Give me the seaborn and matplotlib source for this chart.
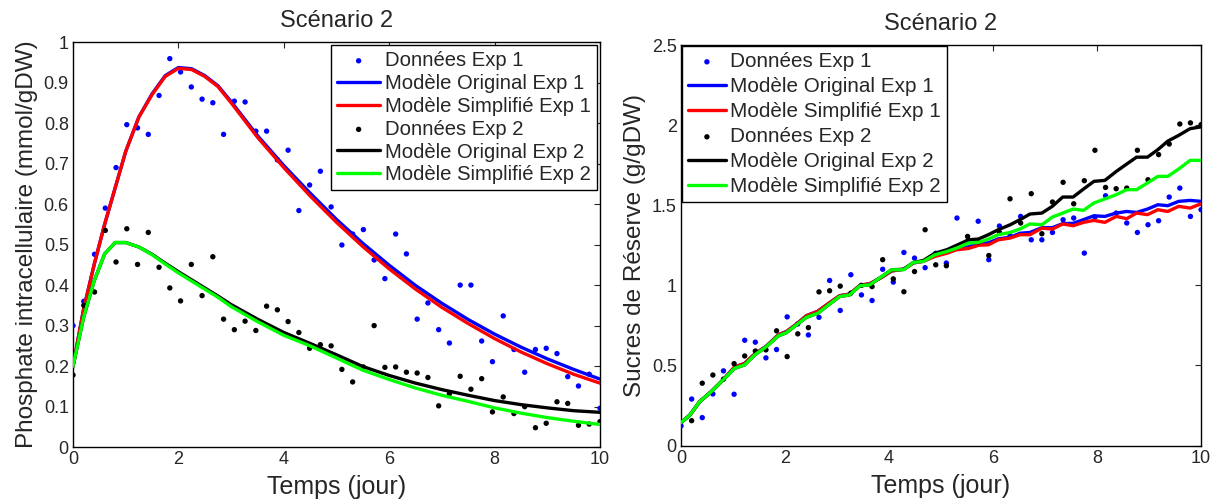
import numpy as np
import pandas as pd
import matplotlib
matplotlib.use("Agg")
import matplotlib.pyplot as plt
import seaborn as sns

# ---------------- data ----------------
# sampling times of the measurements (50 samples over 10 days)
t_data = np.linspace(0, 10, 50)

# Phosphate intracellulaire (mmol/gDW)
phos_exp1 = [0.30, 0.36, 0.476, 0.59, 0.69, 0.796, 0.788, 0.772, 0.868, 0.959,
             0.926, 0.889, 0.859, 0.85, 0.772, 0.854, 0.852, 0.78, 0.78, 0.709,
             0.733, 0.584, 0.647, 0.681, 0.593, 0.499, 0.526, 0.537, 0.462, 0.416,
             0.526, 0.477, 0.316, 0.356, 0.29, 0.257, 0.40, 0.40, 0.262, 0.211,
             0.324, 0.241, 0.185, 0.241, 0.244, 0.231, 0.174, 0.151, 0.18, 0.096]
phos_exp2 = [0.178, 0.35, 0.383, 0.535, 0.457, 0.539, 0.451, 0.53, 0.444, 0.393,
             0.361, 0.451, 0.374, 0.47, 0.316, 0.29, 0.311, 0.288, 0.348, 0.339,
             0.31, 0.283, 0.244, 0.253, 0.25, 0.192, 0.161, 0.198, 0.30, 0.197,
             0.198, 0.185, 0.183, 0.172, 0.102, 0.132, 0.175, 0.143, 0.169, 0.087,
             0.124, 0.083, 0.10, 0.048, 0.059, 0.112, 0.108, 0.054, 0.057, 0.063]

t_phos_model = [0, 0.2, 0.4, 0.6, 0.8, 1.0, 1.25, 1.5, 1.75, 2.0, 2.25, 2.5, 2.75,
                3.0, 3.5, 4.0, 4.5, 5.0, 5.5, 6.0, 6.5, 7.0, 7.5, 8.0, 8.5, 9.0,
                9.5, 10.0]
phos_orig1 = [0.20, 0.34, 0.45, 0.55, 0.64, 0.73, 0.815, 0.872, 0.917, 0.937,
              0.934, 0.917, 0.892, 0.853, 0.769, 0.695, 0.627, 0.562, 0.503,
              0.449, 0.399, 0.355, 0.315, 0.279, 0.247, 0.218, 0.192, 0.168]
phos_simp1 = [0.20, 0.34, 0.45, 0.55, 0.64, 0.73, 0.815, 0.87, 0.915, 0.935,
              0.932, 0.915, 0.89, 0.85, 0.765, 0.69, 0.62, 0.555, 0.495,
              0.44, 0.39, 0.345, 0.305, 0.268, 0.235, 0.206, 0.18, 0.158]
phos_orig2 = [0.20, 0.32, 0.41, 0.477, 0.505, 0.505, 0.494, 0.476, 0.454, 0.433,
              0.413, 0.393, 0.373, 0.352, 0.316, 0.283, 0.256, 0.228, 0.199,
              0.177, 0.158, 0.142, 0.128, 0.115, 0.105, 0.097, 0.090, 0.086]
phos_simp2 = [0.20, 0.32, 0.41, 0.477, 0.505, 0.505, 0.494, 0.475, 0.452, 0.43,
              0.41, 0.39, 0.37, 0.347, 0.31, 0.276, 0.25, 0.22, 0.19,
              0.167, 0.146, 0.128, 0.113, 0.097, 0.084, 0.073, 0.064, 0.056]

# Sucres de Réserve (g/gDW)
sucre_exp1 = [0.122, 0.29, 0.174, 0.322, 0.466, 0.32, 0.657, 0.645, 0.547, 0.599,
              0.803, 0.759, 0.69, 0.80, 1.03, 0.843, 1.066, 0.94, 0.905, 1.10,
              1.02, 1.205, 1.17, 1.11, 1.20, 1.139, 1.42, 1.274, 1.40, 1.16,
              1.37, 1.309, 1.43, 1.284, 1.284, 1.33, 1.409, 1.42, 1.201, 1.426,
              1.559, 1.451, 1.389, 1.33, 1.378, 1.403, 1.551, 1.607, 1.43, 1.472]
sucre_exp2 = [0.149, 0.155, 0.389, 0.44, 0.414, 0.511, 0.559, 0.59, 0.597, 0.716,
              0.555, 0.697, 0.736, 0.959, 0.966, 0.995, 0.951, 1.00, 0.992, 1.16,
              1.04, 0.96, 1.086, 1.347, 1.128, 1.122, 1.24, 1.305, 1.27, 1.186,
              1.33, 1.54, 1.389, 1.572, 1.322, 1.52, 1.643, 1.509, 1.653, 1.843,
              1.611, 1.603, 1.607, 1.843, 1.659, 1.816, 1.882, 2.007, 2.014, 2.003]

t_sucre_early = [0, 0.17, 0.36, 0.58, 0.81, 1.03, 1.22, 1.42, 1.64, 1.87, 2.03,
                 2.22, 2.41, 2.63, 2.86, 3.05, 3.24, 3.44]
sucre_early = [0.143, 0.19, 0.274, 0.336, 0.41, 0.482, 0.503, 0.566, 0.617, 0.684,
               0.705, 0.753, 0.80, 0.826, 0.884, 0.93, 0.94, 0.997]
sucre_early_s1 = [0.143, 0.19, 0.274, 0.336, 0.41, 0.49, 0.512, 0.572, 0.62, 0.69,
                  0.712, 0.758, 0.81, 0.838, 0.892, 0.935, 0.945, 1.0]

t_sucre_late = [3.63, 3.86, 4.05, 4.28, 4.47, 4.66, 4.88, 5.11, 5.30, 5.53, 5.72,
                5.91, 6.10, 6.33, 6.52, 6.71, 6.94, 7.14, 7.34, 7.54, 7.74, 7.94,
                8.15, 8.37, 8.57, 8.76, 8.97, 9.17, 9.36, 9.57, 9.79, 10.0]
sucre_orig1_late = [1.01, 1.05, 1.09, 1.10, 1.14, 1.15, 1.185, 1.205, 1.23, 1.24,
                    1.26, 1.265, 1.29, 1.30, 1.325, 1.33, 1.36, 1.36, 1.385, 1.387,
                    1.41, 1.434, 1.43, 1.451, 1.461, 1.455, 1.476, 1.503, 1.497,
                    1.524, 1.53, 1.524]
sucre_simp1_late = [1.01, 1.05, 1.09, 1.10, 1.14, 1.15, 1.18, 1.20, 1.222, 1.23,
                    1.25, 1.253, 1.284, 1.295, 1.316, 1.316, 1.357, 1.351, 1.383,
                    1.372, 1.393, 1.405, 1.393, 1.43, 1.416, 1.451, 1.441, 1.472,
                    1.461, 1.493, 1.482, 1.509]
sucre_orig2_late = [1.003, 1.055, 1.097, 1.10, 1.143, 1.155, 1.20, 1.222, 1.25,
                    1.284, 1.289, 1.316, 1.347, 1.378, 1.41, 1.445, 1.451, 1.493,
                    1.551, 1.551, 1.601, 1.649, 1.655, 1.711, 1.757, 1.80, 1.80,
                    1.847, 1.90, 1.936, 1.978, 1.989]
sucre_simp2_late = [1.003, 1.055, 1.097, 1.097, 1.143, 1.149, 1.19, 1.211, 1.232,
                    1.264, 1.268, 1.289, 1.316, 1.33, 1.352, 1.383, 1.378, 1.426,
                    1.451, 1.476, 1.468, 1.514, 1.539, 1.566, 1.597, 1.597, 1.639,
                    1.68, 1.68, 1.726, 1.78, 1.78]

labels = ["Données Exp 1", "Modèle Original Exp 1", "Modèle Simplifié Exp 1",
          "Données Exp 2", "Modèle Original Exp 2", "Modèle Simplifié Exp 2"]

# ---------------- style ----------------
sns.set_style("white")
plt.rcParams["font.family"] = ["Liberation Sans", "DejaVu Sans"]
plt.rcParams["axes.linewidth"] = 1.0
plt.rcParams["xtick.direction"] = "in"
plt.rcParams["ytick.direction"] = "in"

fig = plt.figure(figsize=(12.17, 5.03), dpi=100)
ax1 = fig.add_axes([0.060, 0.111, 0.433, 0.8055])
ax2 = fig.add_axes([0.5596, 0.1143, 0.4273, 0.7962])

LW = 2.4
MS = 60


def draw(ax, td, d1, d2, tm1, o1, s1, tm2, o2, s2):
    sns.scatterplot(x=td, y=d1, ax=ax, color="#0000ff", marker=".", s=MS,
                    edgecolor="none", label=labels[0], zorder=3)
    sns.lineplot(x=tm1, y=o1, ax=ax, color="#0000ff", lw=LW, estimator=None,
                 label=labels[1], zorder=4)
    sns.lineplot(x=tm1, y=s1, ax=ax, color="#ff0000", lw=LW, estimator=None,
                 label=labels[2], zorder=5)
    sns.scatterplot(x=td, y=d2, ax=ax, color="black", marker=".", s=MS,
                    edgecolor="none", label=labels[3], zorder=6)
    sns.lineplot(x=tm2, y=o2, ax=ax, color="black", lw=LW, estimator=None,
                 label=labels[4], zorder=7)
    sns.lineplot(x=tm2, y=s2, ax=ax, color="#00ff00", lw=LW, estimator=None,
                 label=labels[5], zorder=8)


draw(ax1, t_data, phos_exp1, phos_exp2,
     t_phos_model, phos_orig1, phos_simp1,
     t_phos_model, phos_orig2, phos_simp2)

t_sucre = t_sucre_early + t_sucre_late
draw(ax2, t_data, sucre_exp1, sucre_exp2,
     t_sucre, sucre_early_s1 + sucre_orig1_late, sucre_early_s1 + sucre_simp1_late,
     t_sucre, sucre_early + sucre_orig2_late, sucre_early + sucre_simp2_late)

for ax in (ax1, ax2):
    ax.set_xlim(0, 10)
    ax.set_xticks([0, 2, 4, 6, 8, 10])
    ax.tick_params(axis="both", which="both", top=True, right=True,
                   length=4, width=0.8, labelsize=13, pad=3)
    for sp in ax.spines.values():
        sp.set_visible(True)
        sp.set_color("black")
    ax.set_xlabel("Temps (jour)", fontsize=18, labelpad=5)
    ax.set_title("Scénario 2", fontsize=17, pad=11)

leg_kw = dict(frameon=True, fancybox=False, framealpha=1, edgecolor="black",
              borderpad=0.3, markerscale=1.0)
leg1 = ax1.legend(loc="upper right", fontsize=14.6, labelspacing=0.19,
                  handlelength=2.1, handletextpad=0.25, borderaxespad=0.15,
                  **leg_kw)
leg2 = ax2.legend(loc="upper left", fontsize=14.9, labelspacing=0.29,
                  handlelength=1.8, handletextpad=0.2, borderaxespad=0.05,
                  **leg_kw)
for leg in (leg1, leg2):
    leg.get_frame().set_linewidth(1.0)

ax1.set_ylim(0, 1)
ax1.set_yticks(np.arange(0, 1.01, 0.1))
ax1.set_yticklabels(["0", "0.1", "0.2", "0.3", "0.4", "0.5", "0.6", "0.7", "0.8",
                     "0.9", "1"])
ax1.set_ylabel("Phosphate intracellulaire (mmol/gDW)", fontsize=17.5, labelpad=4)

ax2.set_ylim(0, 2.5)
ax2.set_yticks([0, 0.5, 1, 1.5, 2, 2.5])
ax2.set_yticklabels(["0", "0.5", "1", "1.5", "2", "2.5"])
ax2.set_ylabel("Sucres de Réserve (g/gDW)", fontsize=17.5, labelpad=4)

fig.savefig("out.png", dpi=100)
